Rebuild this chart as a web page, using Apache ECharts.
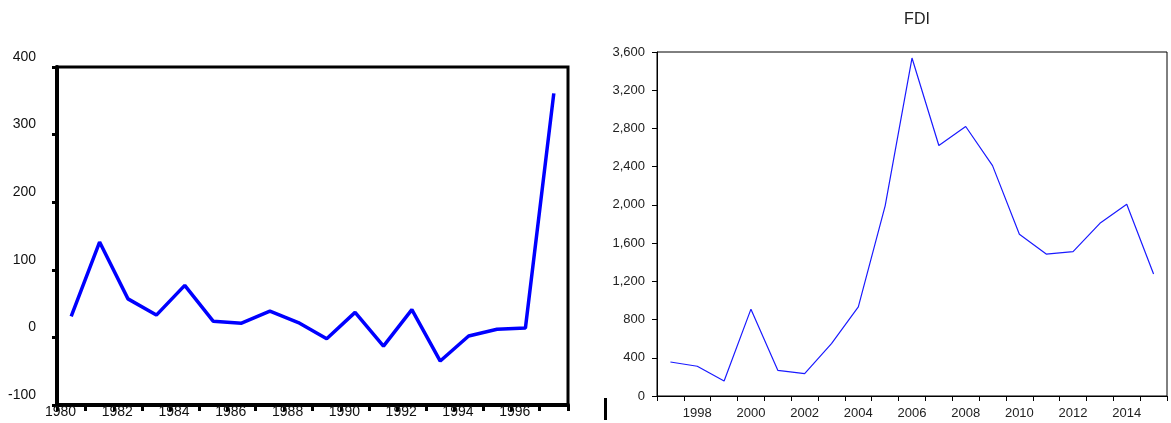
<!DOCTYPE html>
<html>
<head>
<meta charset="utf-8">
<script src="https://cdn.jsdelivr.net/npm/echarts@6/dist/echarts.min.js"></script>
<style>
  html, body { margin: 0; padding: 0; background: #fff; }
  #chart { width: 1171px; height: 423px; }
</style>
</head>
<body>
<div id="chart"></div>
<script>
// left panel: 1980-1997
const anosEsq = [1980, 1981, 1982, 1983, 1984, 1985, 1986, 1987, 1988, 1989, 1990, 1991, 1992, 1993, 1994, 1995, 1996, 1997];
const valoresEsq = [31, 141, 57, 33, 77, 24, 21, 39, 22, -2, 37, -13, 41, -35, 2, 12, 14, 361];

// right panel: FDI 1997-2015
const anosFDI = ['1997', '1998', '1999', '2000', '2001', '2002', '2003', '2004', '2005', '2006',
                 '2007', '2008', '2009', '2010', '2011', '2012', '2013', '2014', '2015'];
const valoresFDI = [356, 311, 157, 909, 269, 235, 549, 933, 1990, 3537, 2621, 2820, 2411, 1692, 1485, 1510, 1807, 2006, 1276];
const tituloFDI = 'FDI';

const fonte = 'Liberation Sans, Arial, sans-serif';

const chart = echarts.init(document.getElementById('chart'));

chart.setOption({
    backgroundColor: '#fff',
    animation: false,
    title: {
        text: tituloFDI,
        left: 912, top: 7, textAlign: 'center',
        textStyle: { fontFamily: fonte, fontSize: 16, fontWeight: 'normal', color: '#222' }
    },
    grid: [
        { left: 57, right: 603, top: 67, bottom: 18, show: true, borderColor: '#000', borderWidth: 3, backgroundColor: 'transparent' },
        { left: 657, right: 4, top: 52, bottom: 27, show: true, borderColor: '#000', borderWidth: 1, backgroundColor: 'transparent' }
    ],
    xAxis: [
        {
            type: 'value', gridIndex: 0, min: 1980, max: 1998, interval: 1,
            axisLine: { show: true, onZero: false, lineStyle: { color: '#000', width: 4 } },
            axisTick: { show: true, inside: false, length: 6, lineStyle: { color: '#000', width: 3 } },
            axisLabel: {
                margin: 0, fontFamily: fonte, fontSize: 14, color: '#111',
                padding: [0, 0, 0, 7],
                formatter: v => (v % 2 === 0 && v < 1998) ? String(v) : ''
            },
            splitLine: { show: false }
        },
        {
            type: 'category', gridIndex: 1, data: anosFDI, boundaryGap: true,
            axisLine: { show: true, lineStyle: { color: '#000', width: 1 } },
            axisTick: { show: true, interval: 0, length: 5, lineStyle: { color: '#000' } },
            axisLabel: {
                margin: 11, fontFamily: fonte, fontSize: 13, color: '#222',
                interval: (i) => i % 2 === 1
            },
            splitLine: { show: false }
        }
    ],
    yAxis: [
        {
            type: 'value', gridIndex: 0, min: -100, max: 400, interval: 100,
            axisLine: { show: true, onZero: false, lineStyle: { color: '#000', width: 4 } },
            axisTick: { show: true, length: 5, lineStyle: { color: '#000', width: 3 } },
            axisLabel: {
                margin: 21, fontFamily: fonte, fontSize: 14, color: '#111',
                verticalAlign: 'bottom', lineHeight: 20
            },
            splitLine: { show: false }
        },
        {
            type: 'value', gridIndex: 1, min: 0, max: 3600, interval: 400,
            axisLine: { show: true, lineStyle: { color: '#000', width: 1 } },
            axisTick: { show: true, length: 5, lineStyle: { color: '#000' } },
            axisLabel: {
                margin: 12, fontFamily: fonte, fontSize: 13, color: '#222',
                formatter: v => v.toLocaleString('en-US')
            },
            splitLine: { show: false }
        }
    ],
    series: [
        {
            type: 'line', xAxisIndex: 0, yAxisIndex: 0,
            data: anosEsq.map((a, i) => [a + 0.5, valoresEsq[i]]),
            showSymbol: false,
            lineStyle: { color: '#0000ff', width: 3.5 },
            itemStyle: { color: '#0000ff' }
        },
        {
            type: 'line', xAxisIndex: 1, yAxisIndex: 1,
            data: valoresFDI,
            showSymbol: false,
            lineStyle: { color: '#1a1aff', width: 1.2 },
            itemStyle: { color: '#1a1aff' }
        }
    ],
    graphic: [
        { type: 'rect', left: 604, top: 398, shape: { width: 3, height: 22 }, style: { fill: '#000' } }
    ]
});

window.addEventListener('resize', () => chart.resize());
</script>
</body>
</html>
